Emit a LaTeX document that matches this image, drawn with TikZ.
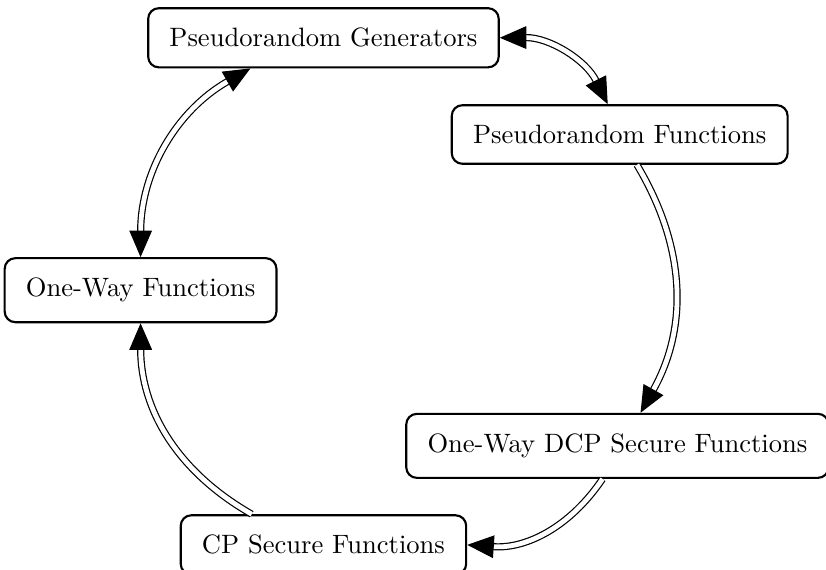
\documentclass[tikz,border=0pt]{standalone}
\usepackage{tikz}
\usetikzlibrary{arrows.meta}

\begin{document}
\begin{tikzpicture}[
  box/.style={draw,thick,rounded corners=4pt,inner xsep=8pt,inner ysep=7.5pt},
  link/.style={double,double distance=1.8pt,line width=0.45pt},
  imp/.tip={Triangle[length=10pt,width=8.5pt]}
]
\useasboundingbox (0,0) rectangle (10.93,7.54);

\node[box] (prg) at (4.28,7.04) {Pseudorandom Generators};
\node[box] (prf) at (8.20,5.76) {Pseudorandom Functions};
\node[box] (owf) at (1.86,3.70) {One-Way Functions};
\node[box] (dcp) at (8.17,1.64) {One-Way DCP Secure Functions};
\node[box] (cp) at (4.28,0.33) {CP Secure Functions};

% the cycle of implications
\draw[link,{imp}-{imp}] (prg.east) to[bend left=32] ([xshift=-4.5pt]prf.north);
\draw[link,-{imp}] ([xshift=6.5pt]prf.south) to[bend left=30] ([xshift=8.7pt]dcp.north);
\draw[link,-{imp}] ([xshift=-5.6pt]dcp.south) to[bend left=30] (cp.east);
\draw[link,-{imp}] ([xshift=-27pt]cp.north) to[bend left=30] (owf.south);
\draw[link,{imp}-{imp}] (owf.north) to[bend left=30] ([xshift=-27.5pt]prg.south);
\end{tikzpicture}
\end{document}
